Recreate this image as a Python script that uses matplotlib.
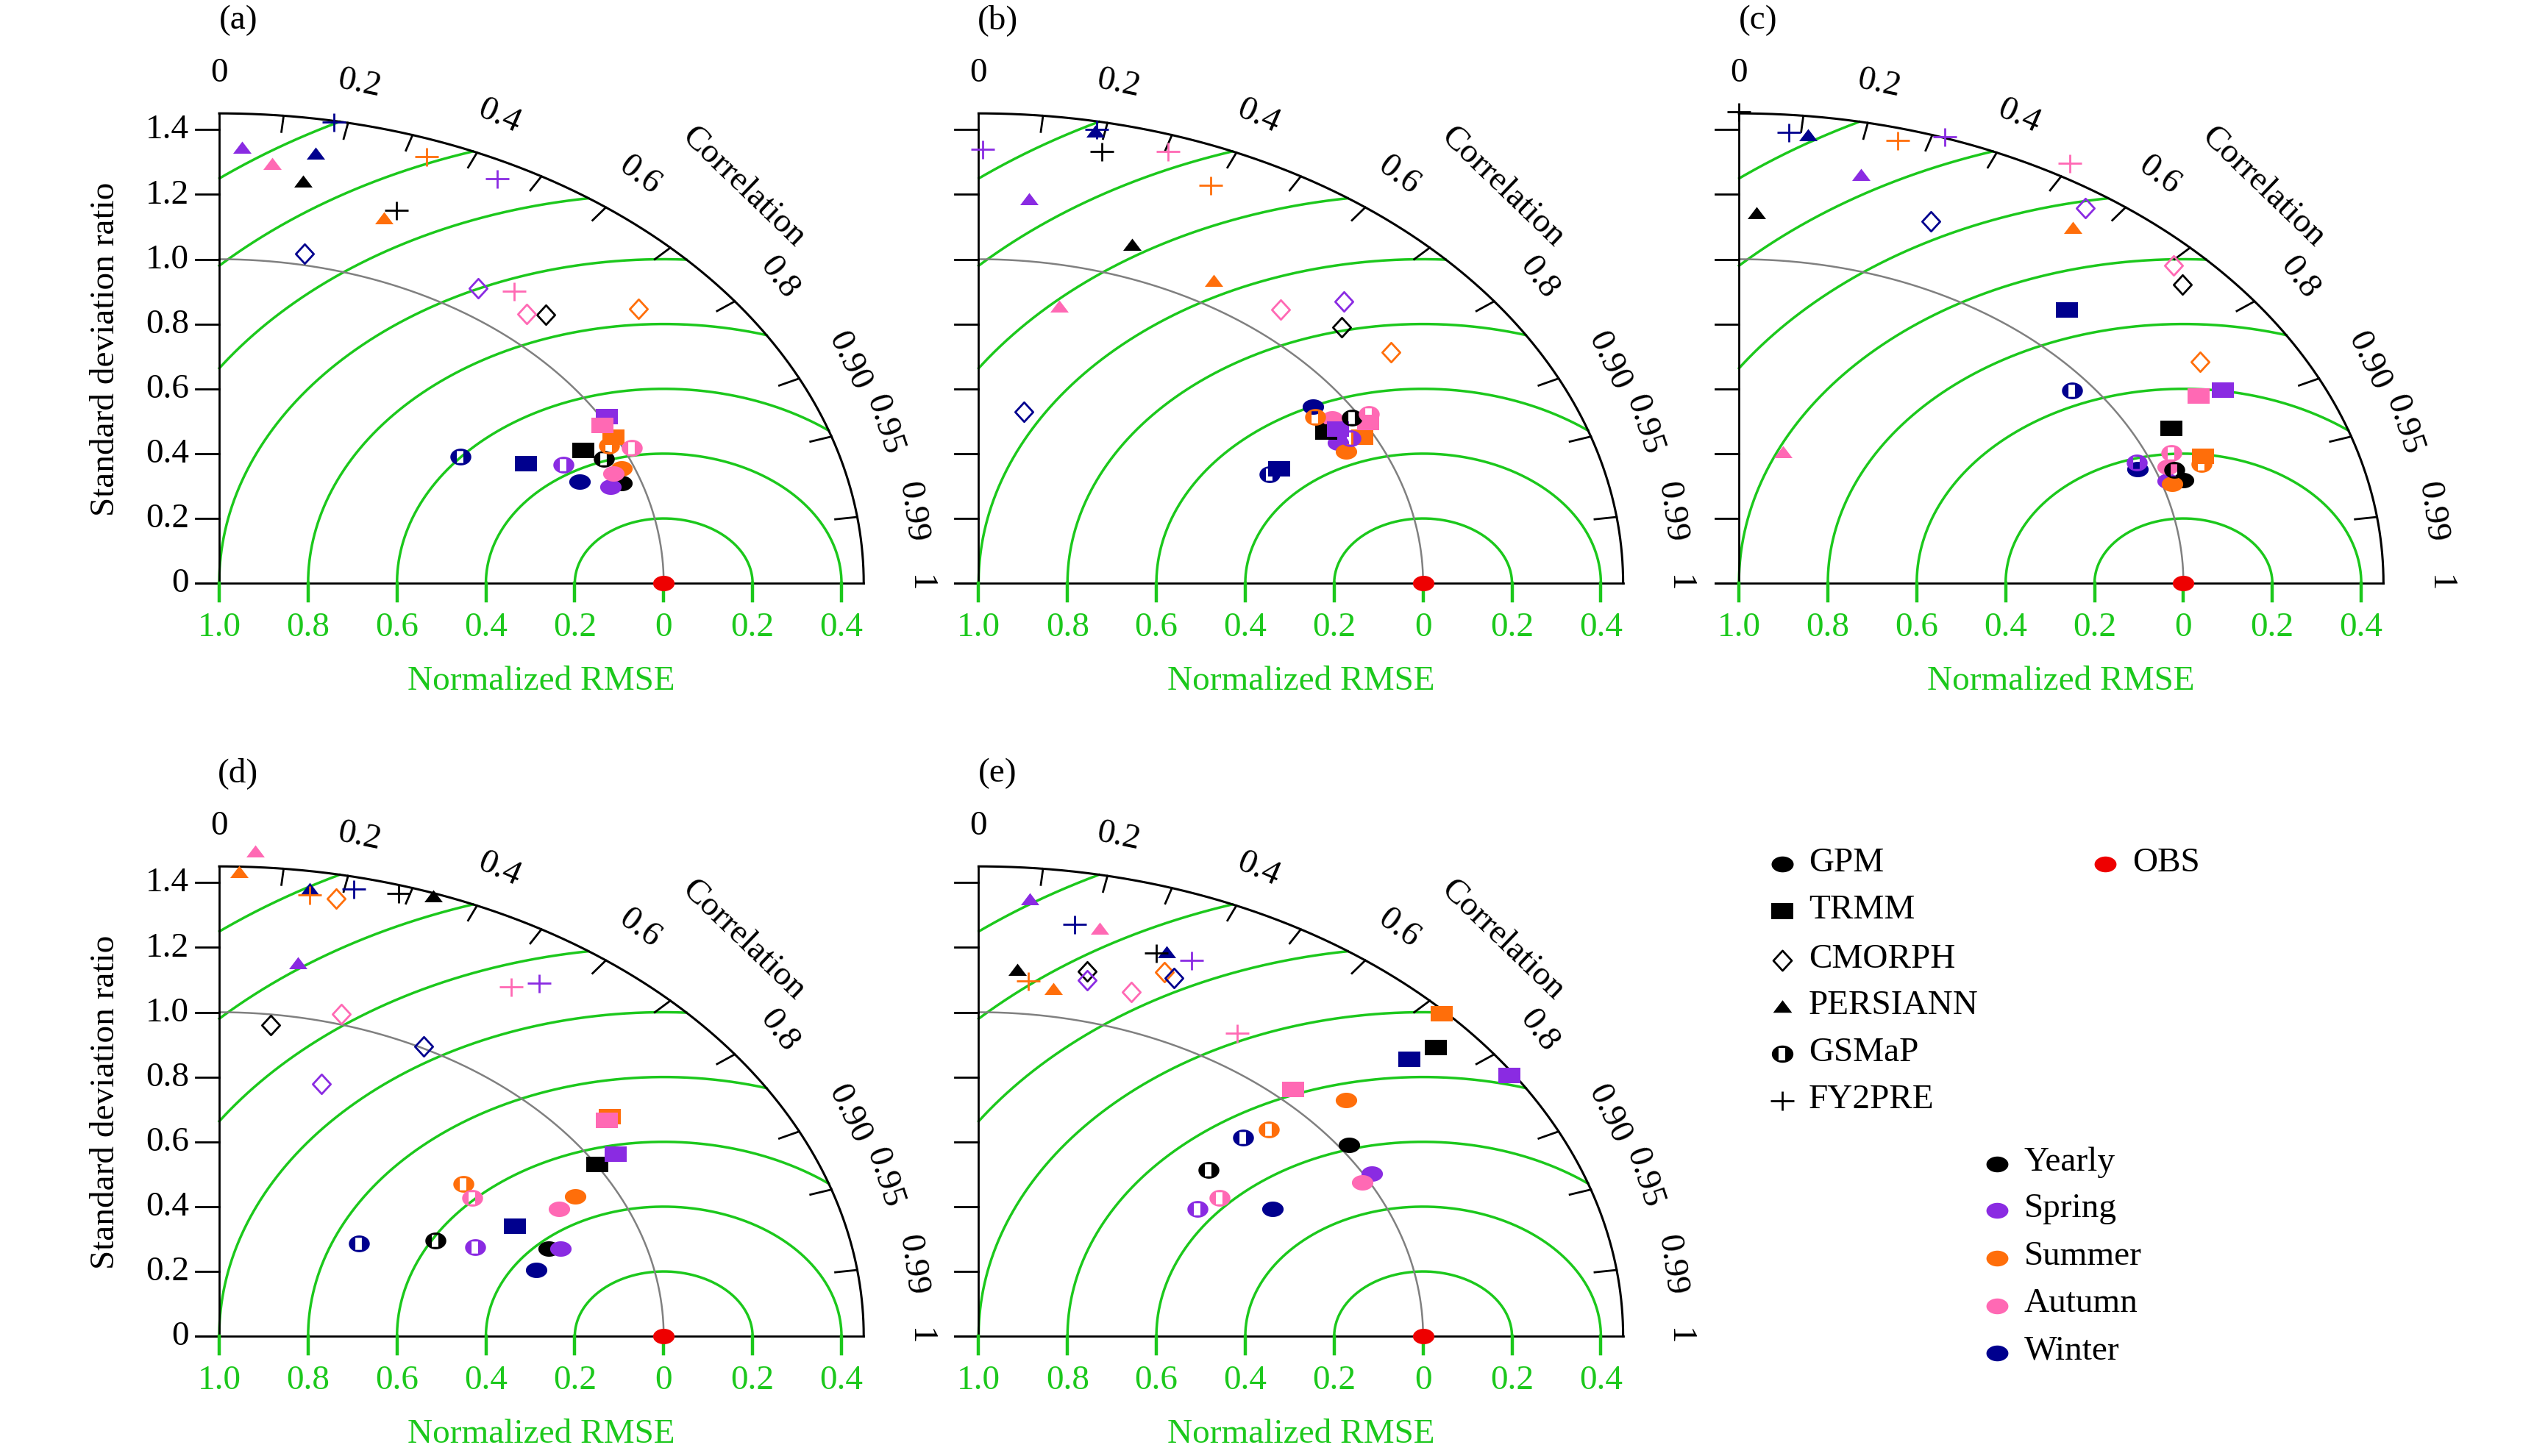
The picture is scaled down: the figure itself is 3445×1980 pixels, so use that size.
import numpy as np
import matplotlib
matplotlib.use('Agg')
import matplotlib.pyplot as plt
from matplotlib.path import Path

plt.rcParams['font.family'] = ['Liberation Serif', 'DejaVu Serif']

PRODUCTS = ['GPM', 'TRMM', 'CMORPH', 'PERSIANN', 'GSMaP', 'FY2PRE']
SEASONS = ['Yearly', 'Spring', 'Summer', 'Autumn', 'Winter']
SEASON_COLORS = ['#000000', '#8A2BE2', '#FF6E0A', '#FF69B4', '#00008E']
PANEL_LABELS = ['(a)', '(b)', '(c)', '(d)', '(e)']

# rows = products (GPM, TRMM, CMORPH, PERSIANN, GSMaP, FY2PRE)
# cols = seasons (Yearly, Spring, Summer, Autumn, Winter)
A_STD = [[0.956, 0.930, 0.972, 0.949, 0.869],
         [0.916, 1.013, 0.995, 0.991, 0.784],
         [1.107, 1.080, 1.268, 1.082, 1.035],
         [1.253, 1.345, 1.186, 1.299, 1.344],
         [0.946, 0.856, 0.975, 1.018, 0.669],
         [1.219, 1.396, 1.396, 1.119, 1.446]]
A_CORR = [[0.946, 0.947, 0.931, 0.934, 0.933],
          [0.894, 0.861, 0.891, 0.870, 0.881],
          [0.663, 0.539, 0.744, 0.640, 0.186],
          [0.150, 0.038, 0.313, 0.092, 0.161],
          [0.914, 0.904, 0.900, 0.912, 0.812],
          [0.327, 0.448, 0.334, 0.593, 0.179]]

B_STD = [[0.930, 0.918, 0.922, 0.945, 0.929],
         [0.911, 0.940, 0.975, 1.007, 0.764],
         [1.136, 1.197, 1.170, 1.084, 0.538],
         [1.101, 1.191, 1.072, 0.872, 1.419],
         [0.984, 0.949, 0.914, 1.022, 0.736],
         [1.360, 1.339, 1.335, 1.400, 1.425]]
B_CORR = [[0.850, 0.881, 0.897, 0.842, 0.810],
          [0.858, 0.861, 0.886, 0.870, 0.886],
          [0.719, 0.687, 0.793, 0.627, 0.190],
          [0.314, 0.095, 0.494, 0.208, 0.185],
          [0.854, 0.882, 0.828, 0.859, 0.890],
          [0.204, 0.007, 0.391, 0.305, 0.186]]

C_STD = [[1.049, 1.015, 1.022, 1.029, 0.963],
         [1.084, 1.242, 1.115, 1.185, 1.122],
         [1.358, 1.396, 1.242, 1.384, 1.197],
         [1.142, 1.289, 1.328, 0.416, 1.390],
         [1.040, 0.969, 1.104, 1.052, 0.958],
         [1.455, 1.454, 1.413, 1.494, 1.396]]
C_CORR = [[0.953, 0.950, 0.954, 0.937, 0.931],
          [0.897, 0.877, 0.936, 0.872, 0.658],
          [0.735, 0.558, 0.835, 0.706, 0.361],
          [0.034, 0.213, 0.565, 0.238, 0.112],
          [0.942, 0.923, 0.943, 0.924, 0.783],
          [0.000, 0.319, 0.253, 0.498, 0.080]]

D_STD = [[0.789, 0.814, 0.910, 0.860, 0.742],
         [1.004, 1.055, 1.111, 1.099, 0.748],
         [0.967, 0.813, 1.375, 1.031, 1.006],
         [1.440, 1.164, 1.433, 1.499, 1.394],
         [0.569, 0.638, 0.723, 0.712, 0.426],
         [1.424, 1.306, 1.376, 1.263, 1.412]]
D_CORR = [[0.939, 0.943, 0.880, 0.889, 0.961],
          [0.848, 0.845, 0.791, 0.794, 0.890],
          [0.120, 0.283, 0.191, 0.266, 0.458],
          [0.334, 0.152, 0.031, 0.054, 0.146],
          [0.854, 0.902, 0.760, 0.799, 0.739],
          [0.284, 0.551, 0.148, 0.520, 0.214]]

E_STD = [[1.022, 1.017, 1.102, 0.986, 0.768],
         [1.362, 1.441, 1.442, 1.040, 1.293],
         [1.151, 1.126, 1.200, 1.116, 1.189],
         [1.133, 1.353, 1.084, 1.286, 1.257],
         [0.728, 0.631, 0.914, 0.689, 0.855],
         [1.248, 1.256, 1.102, 1.102, 1.290]]
E_CORR = [[0.816, 0.870, 0.750, 0.876, 0.860],
          [0.755, 0.829, 0.722, 0.680, 0.749],
          [0.212, 0.217, 0.349, 0.308, 0.369],
          [0.077, 0.085, 0.155, 0.212, 0.336],
          [0.710, 0.781, 0.715, 0.786, 0.696],
          [0.320, 0.382, 0.102, 0.528, 0.168]]

OBS_STD = 1.0
OBS_CORR = 1.0

STD_TICKS = [0, 0.2, 0.4, 0.6, 0.8, 1.0, 1.2, 1.4]
STD_TICK_LABELS = ['0', '0.2', '0.4', '0.6', '0.8', '1.0', '1.2', '1.4']
RMSE_TICKS = [0, 0.2, 0.4, 0.6, 0.8, 1.0, 1.2, 1.4]
RMSE_TICK_LABELS = ['1.0', '0.8', '0.6', '0.4', '0.2', '0', '0.2', '0.4']
RMSE_ARCS = [0.2, 0.4, 0.6, 0.8, 1.0, 1.2, 1.4, 1.6]
CORR_TICKS = [0.1, 0.2, 0.3, 0.4, 0.5, 0.6, 0.7, 0.8, 0.9, 0.95, 0.99]
CORR_LABEL_VALUES = [0, 0.2, 0.4, 0.6, 0.8, 0.9, 0.95, 0.99, 1.0]
CORR_LABELS = ['0', '0.2', '0.4', '0.6', '0.8', '0.90', '0.95', '0.99', '1']

# ---------- styling / layout ----------
W, H = 3445, 1981
GREEN = '#1CC81C'
R = 1.45
XU, YU = 604.3, 440.7
ORIGINS = [(298.0, 794.2), (1330.4, 794.2), (2364.1, 794.2),
           (298.0, 1818.2), (1330.4, 1818.2)]
FS = 34


def make_path(verts, codes):
    return Path(np.asarray(verts, float), codes)


def ellipse_marker(ry=0.72, hole=False):
    t = np.linspace(0, 2 * np.pi, 65)
    verts = list(np.column_stack([np.cos(t), ry * np.sin(t)]))
    codes = [Path.MOVETO] + [Path.LINETO] * 63 + [Path.CLOSEPOLY]
    if hole:
        hy = 0.72 * ry
        hv = [(-0.38, -hy), (-0.38, hy), (0.24, hy), (0.24, -hy), (-0.38, -hy)]
        verts += hv
        codes += [Path.MOVETO, Path.LINETO, Path.LINETO, Path.LINETO, Path.CLOSEPOLY]
    return make_path(verts, codes)


M_ELL = ellipse_marker()
M_GSMAP = ellipse_marker(ry=0.8, hole=True)
M_RECT = make_path([(-1, -0.72), (1, -0.72), (1, 0.72), (-1, 0.72), (-1, -0.72)],
                   [Path.MOVETO, Path.LINETO, Path.LINETO, Path.LINETO, Path.CLOSEPOLY])
M_DIAM = make_path([(0, 1), (0.92, 0), (0, -1), (-0.92, 0), (0, 1)],
                   [Path.MOVETO, Path.LINETO, Path.LINETO, Path.LINETO, Path.CLOSEPOLY])
M_TRI = make_path([(-1, -0.6), (1, -0.6), (0, 0.72), (-1, -0.6)],
                  [Path.MOVETO, Path.LINETO, Path.LINETO, Path.CLOSEPOLY])
M_PLUS = make_path([(-1, 0), (1, 0), (0, -0.8), (0, 0.8)],
                   [Path.MOVETO, Path.LINETO, Path.MOVETO, Path.LINETO])

# marker, size (pt), filled
PRODUCT_STYLE = [(M_ELL, 21, True), (M_RECT, 21, True), (M_DIAM, 19, False),
                 (M_TRI, 18, True), (M_GSMAP, 20.5, True), (M_PLUS, 22.5, False)]


def draw_marker(ax, x, y, style, color, scale=1.0):
    m, ms, filled = style
    if filled:
        ax.plot([x], [y], linestyle='none', marker=m, ms=ms * scale, mfc=color,
                mec='none', mew=0, clip_on=False, zorder=5)
    else:
        ax.plot([x], [y], linestyle='none', marker=m, ms=ms * scale, mfc='none',
                mec=color, mew=2.0, clip_on=False, zorder=5)


def taylor_panel(idx, std, corr):
    ox, oy = ORIGINS[idx]
    ax = fig.add_axes([ox / W, 1 - oy / H, R * XU / W, R * YU / H])
    ax.set_xlim(0, R)
    ax.set_ylim(0, R)
    ax.axis('off')

    # RMSE arcs (green), centred on OBS
    for r in RMSE_ARCS:
        t = np.linspace(0, np.pi, 4000)
        x = 1 + r * np.cos(t)
        y = r * np.sin(t)
        ok = (x >= 0) & (x ** 2 + y ** 2 <= R ** 2)
        x = np.where(ok, x, np.nan)
        ax.plot(x, y, color=GREEN, lw=2.5, clip_on=False, zorder=1)
    # std = 1 arc (grey)
    t = np.linspace(0, np.pi / 2, 400)
    ax.plot(np.cos(t), np.sin(t), color='#808080', lw=1.8, clip_on=False, zorder=2)
    # outer arc
    ax.plot(R * np.cos(t), R * np.sin(t), color='black', lw=2.2, clip_on=False, zorder=3)
    # axes lines
    ax.plot([0, 0], [0, R], color='black', lw=2.0, clip_on=False, zorder=3)
    ax.plot([-0.053, R], [0, 0], color='black', lw=2.0, clip_on=False, zorder=3)
    for v in STD_TICKS:
        ax.plot([-0.053, 0], [v, v], color='black', lw=2.0, clip_on=False, zorder=3)
    # green RMSE ticks and labels
    for v, lab in zip(RMSE_TICKS, RMSE_TICK_LABELS):
        ax.plot([v, v], [0, -0.055], color=GREEN, lw=3.2, clip_on=False, zorder=3)
        ax.text(v, -0.135, lab, color=GREEN, fontsize=FS, ha='center', va='center')
    ax.text(R / 2, -0.30, 'Normalized RMSE', color=GREEN, fontsize=FS,
            ha='center', va='center')
    # correlation ticks
    for c in CORR_TICKS:
        th = np.arccos(c)
        ax.plot([1.40 * np.cos(th), R * np.cos(th)], [1.40 * np.sin(th), R * np.sin(th)],
                color='black', lw=2.0, clip_on=False, zorder=3)
    for c, lab in zip(CORR_LABEL_VALUES, CORR_LABELS):
        th = np.arccos(c)
        rr = 1.575
        ax.text(rr * np.cos(th), rr * np.sin(th), lab, fontsize=FS, rotation=np.degrees(th) - 90,
                rotation_mode='anchor', ha='center', va='center')
    th = np.radians(46.1)
    ax.text(1.70 * np.cos(th), 1.70 * np.sin(th), 'Correlation', fontsize=FS,
            rotation=np.degrees(th) - 90, rotation_mode='anchor', ha='center', va='center')
    # std axis labels on the left panels only
    if idx in (0, 3):
        for v, lab in zip(STD_TICKS, STD_TICK_LABELS):
            ax.text(-0.068, v, lab, fontsize=FS, ha='right', va='center')
        ax.text(-0.256, R / 2, 'Standard deviation ratio', fontsize=FS, rotation=90,
                ha='center', va='center')
    ax.text(0.043, 1.74, PANEL_LABELS[idx], fontsize=FS, ha='center', va='center')

    # data points
    for p in range(len(PRODUCTS)):
        for s in range(len(SEASONS)):
            sd, cc = std[p][s], corr[p][s]
            th = np.arccos(cc)
            draw_marker(ax, sd * np.cos(th), sd * np.sin(th), PRODUCT_STYLE[p], SEASON_COLORS[s])
    th = np.arccos(OBS_CORR)
    ax.plot([OBS_STD * np.cos(th)], [OBS_STD * np.sin(th)], linestyle='none', marker=M_ELL,
            ms=21, mfc='#EE0000', mec='none', clip_on=False, zorder=6)
    return ax


fig = plt.figure(figsize=(W / 100, H / 100), dpi=100)
for i, (sd, cc) in enumerate([(A_STD, A_CORR), (B_STD, B_CORR), (C_STD, C_CORR),
                              (D_STD, D_CORR), (E_STD, E_CORR)]):
    taylor_panel(i, sd, cc)

# ---------- legend (pixel coordinates) ----------
lax = fig.add_axes([0, 0, 1, 1])
lax.set_xlim(0, W)
lax.set_ylim(H, 0)
lax.axis('off')
prod_y = [1175.7, 1240.2, 1306.6, 1369.6, 1434.1, 1498.1]
for p, name in enumerate(PRODUCTS):
    draw_marker(lax, 2422.7, prod_y[p], PRODUCT_STYLE[p], 'black', scale=1.03)
    lax.text(2459, prod_y[p] - 2, name, fontsize=FS, ha='left', va='center')
lax.plot([2862], [1175.7], linestyle='none', marker=M_ELL, ms=21.5, mfc='#EE0000', mec='none')
lax.text(2899, 1173.7, 'OBS', fontsize=FS, ha='left', va='center')
season_y = [1584.4, 1647.4, 1712.3, 1776.8, 1840.8]
for s, name in enumerate(SEASONS):
    lax.plot([2715], [season_y[s]], linestyle='none', marker=M_ELL, ms=21.5,
             mfc=SEASON_COLORS[s], mec='none')
    lax.text(2752, season_y[s] - 4, name, fontsize=FS, ha='left', va='center')

fig.savefig('out.png', dpi=100)
